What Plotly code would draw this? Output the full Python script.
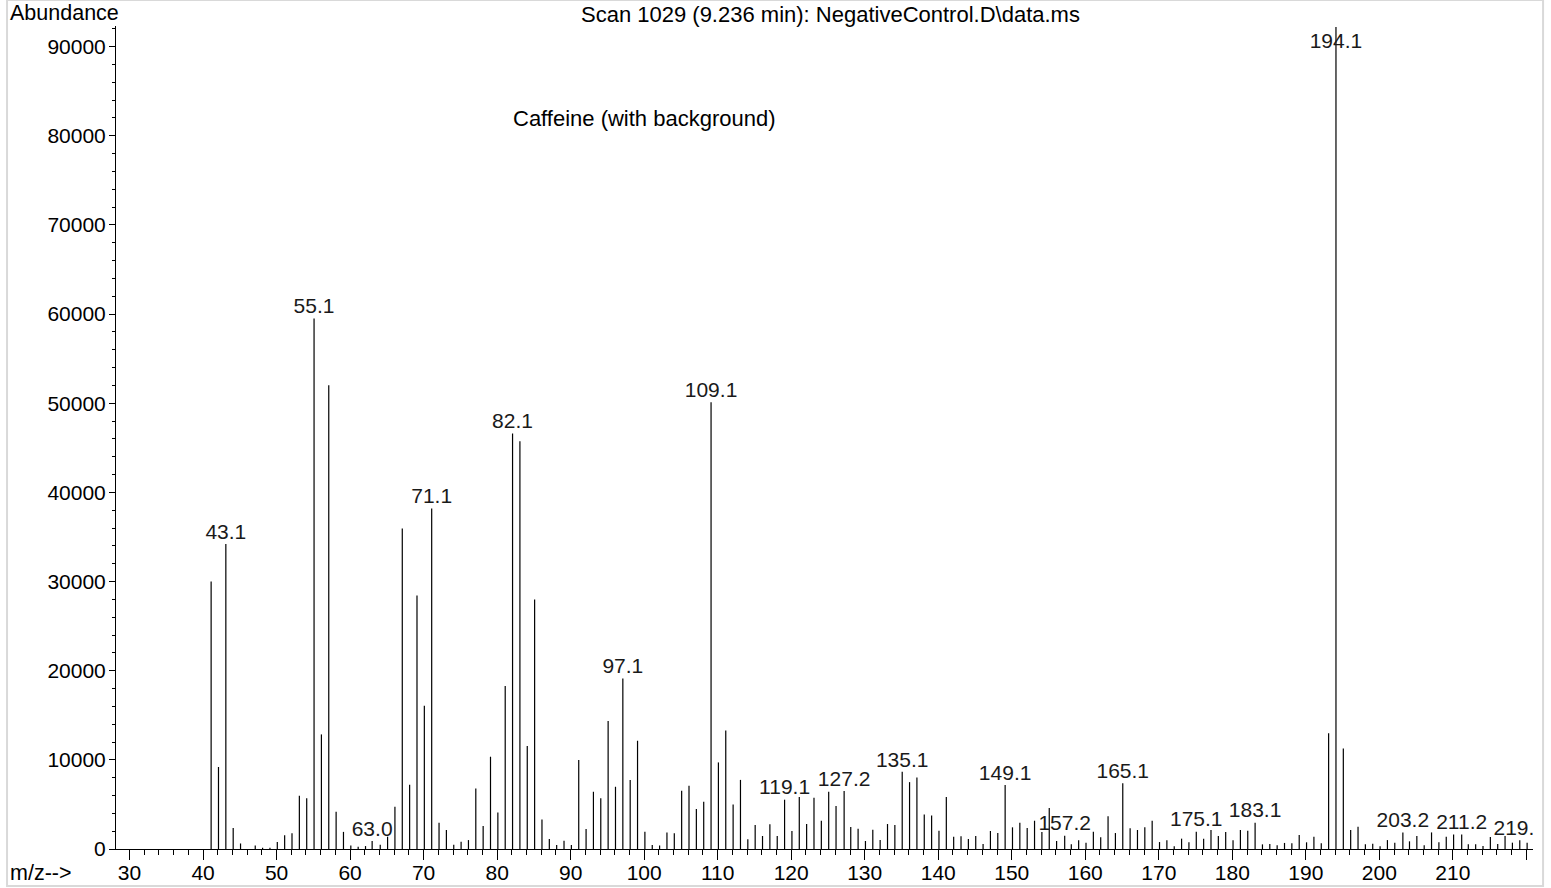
import plotly.graph_objects as go

# ---- data ----
mz = [41.1, 42.1, 43.1, 44.1, 45.1, 47.1, 48.1, 49.1, 50.1, 51.1, 52.1, 53.1, 54.1,
      55.1, 56.1, 57.1, 58.1, 59.1, 60.1, 61.1, 62.1, 63.0, 64.1, 65.1, 66.1, 67.1,
      68.1, 69.1, 70.1, 71.1, 72.1, 73.1, 74.1, 75.1, 76.1, 77.1, 78.1, 79.1, 80.1,
      81.1, 82.1, 83.1, 84.1, 85.1, 86.1, 87.1, 88.1, 89.1, 90.1, 91.1, 92.1, 93.1,
      94.1, 95.1, 96.1, 97.1, 98.1, 99.1, 100.1, 101.1, 102.1, 103.1, 104.1, 105.1,
      106.1, 107.1, 108.1, 109.1, 110.1, 111.1, 112.1, 113.1, 114.1, 115.1, 116.1,
      117.1, 118.1, 119.1, 120.1, 121.1, 122.1, 123.1, 124.1, 125.1, 126.1, 127.2,
      128.1, 129.1, 130.1, 131.1, 132.1, 133.1, 134.1, 135.1, 136.1, 137.1, 138.1,
      139.1, 140.1, 141.1, 142.1, 143.1, 144.1, 145.1, 146.1, 147.1, 148.1, 149.1,
      150.1, 151.1, 152.1, 153.1, 154.1, 155.1, 156.1, 157.2, 158.1, 159.1, 160.1,
      161.1, 162.1, 163.1, 164.1, 165.1, 166.1, 167.1, 168.1, 169.1, 170.1, 171.1,
      172.1, 173.1, 174.1, 175.1, 176.1, 177.1, 178.1, 179.1, 180.1, 181.1, 182.1,
      183.1, 184.1, 185.1, 186.1, 187.1, 188.1, 189.1, 190.1, 191.1, 192.1, 193.1,
      194.1, 195.1, 196.1, 197.1, 198.1, 199.1, 200.1, 201.1, 202.1, 203.2, 204.1,
      205.1, 206.1, 207.1, 208.1, 209.1, 210.1, 211.2, 212.1, 213.1, 214.1, 215.1,
      216.1, 217.1, 218.1, 219.1, 220.1]

abundance = [30000, 9200, 34200, 2350, 620, 400, 150, 150, 780, 1530, 1760, 5980, 5680,
             59500, 12850, 52000, 4180, 1920, 400, 260, 330, 900, 480, 1380, 4740, 35940,
             7200, 28430, 16070, 38180, 2930, 2130, 480, 820, 1000, 6780, 2590, 10350, 4100,
             18270, 46590, 45730, 11540, 27980, 3320, 1120, 450, 930, 450, 9980, 2240, 6420,
             5680, 14350, 6980, 19130, 7730, 12140, 1940, 450, 400, 1860, 1760, 6540,
             7100, 4480, 5300, 50100, 9710, 13300, 5000, 7750, 1100, 2690, 1460,
             2770, 1460, 5530, 2020, 5830, 2800, 5750, 3170, 6420, 4820, 6500,
             2470, 2280, 900, 2170, 1000, 2800, 2690, 8660, 7500, 8030, 3880,
             3770, 2060, 5830, 1380, 1420, 1120, 1460, 560, 2020, 1790, 7170,
             2430, 2930, 2360, 3170, 1900, 4600, 900, 1500, 520, 970, 710,
             1940, 1310, 3660, 1790, 7360, 2320, 2130, 2430, 3170, 780, 970,
             300, 1160, 750, 1940, 1160, 2130, 1460, 1900, 970, 2130, 2060,
             2950, 520, 560, 410, 680, 650, 1570, 750, 1380, 640, 12970,
             92200, 11280, 2130, 2500, 520, 600, 300, 1000, 710, 1860, 860,
             1460, 410, 1860, 750, 1380, 1640, 1640, 520, 520, 340, 1340,
             560, 1460, 710, 970, 710]

peak_labels = ["43.1", "55.1", "63.0", "71.1", "82.1", "97.1", "109.1", "119.1", "127.2",
               "135.1", "149.1", "157.2", "165.1", "175.1", "183.1", "194.1", "203.2",
               "211.2", "219.1"]

x_tick_vals = [30, 40, 50, 60, 70, 80, 90, 100, 110, 120, 130, 140, 150, 160, 170, 180,
               190, 200, 210, 220]
x_tick_text = ["30", "40", "50", "60", "70", "80", "90", "100", "110", "120", "130",
               "140", "150", "160", "170", "180", "190", "200", "210", ""]

title_text = "Scan 1029 (9.236 min): NegativeControl.D\\data.ms"
sample_text = "Caffeine (with background)"

X_RANGE = [28.16, 220.9]
Y_RANGE = [0, 92300]
LABEL_CAP = 89300

FONT = "Liberation Sans, Arial, sans-serif"
FS = 21

# build stick segments from data
sx, sy = [], []
for m, a in zip(mz, abundance):
    sx += [m, m, None]
    sy += [0, a, None]

lookup = dict(zip(mz, abundance))
lab_x = [float(t) for t in peak_labels]
lab_y = [min(lookup[float(t)], LABEL_CAP) for t in peak_labels]

fig = go.Figure()
fig.add_trace(go.Scatter(x=sx, y=sy, mode="lines",
                         line=dict(color="black", width=1.2),
                         hoverinfo="skip", showlegend=False))
fig.add_trace(go.Scatter(x=lab_x, y=lab_y, mode="text", text=peak_labels,
                         textposition="top center", cliponaxis=True,
                         textfont=dict(family=FONT, size=FS, color="#1a1a1a"),
                         hoverinfo="skip", showlegend=False))

fig.update_layout(
    width=1551, height=888,
    margin=dict(l=116, r=18, t=26, b=39, pad=0),
    paper_bgcolor="white", plot_bgcolor="white",
    font=dict(family=FONT, size=FS, color="black"),
    showlegend=False,
    xaxis=dict(range=X_RANGE, tickmode="array", tickvals=x_tick_vals,
               ticktext=x_tick_text, ticks="outside", ticklen=10, tickwidth=1,
               tickcolor="black", showline=True, linecolor="black", linewidth=1,
               showgrid=False, zeroline=False, automargin=False,
               ticklabelstandoff=-5,
               tickfont=dict(family=FONT, size=FS, color="black"),
               minor=dict(dtick=2, tick0=28, ticks="outside", ticklen=5,
                          tickcolor="black", showgrid=False)),
    yaxis=dict(range=Y_RANGE, dtick=10000, tick0=0, ticks="outside", ticklen=6,
               tickwidth=1, tickcolor="black", showline=True, linecolor="black",
               linewidth=1, showgrid=False, zeroline=False, automargin=False,
               tickformat="d", ticklabelstandoff=-1,
               tickfont=dict(family=FONT, size=FS, color="black"),
               minor=dict(dtick=2000, ticks="outside", ticklen=3,
                          tickcolor="black", showgrid=False)),
)

fig.add_annotation(text=title_text, xref="paper", yref="paper", x=0.504, y=1,
                   yshift=12, xanchor="center", yanchor="middle", showarrow=False,
                   font=dict(family=FONT, size=22, color="black"))
fig.add_annotation(text=sample_text, x=100, y=81900, xanchor="center",
                   yanchor="middle", showarrow=False,
                   font=dict(family=FONT, size=22, color="black"))
fig.add_annotation(text="Abundance", xref="paper", yref="paper", x=0, y=1,
                   xshift=-108, yshift=13, xanchor="left", yanchor="middle",
                   showarrow=False, font=dict(family=FONT, size=21.5, color="black"))
fig.add_annotation(text="m/z-->", xref="paper", yref="paper", x=0, y=0,
                   xshift=-108, yshift=-24, xanchor="left", yanchor="middle",
                   showarrow=False, font=dict(family=FONT, size=21.5, color="black"))

# light frame around the whole picture
fig.add_shape(type="rect", xref="paper", yref="paper",
              x0=-0.0769, x1=1.0071, y0=-0.045, y1=1.0316,
              line=dict(color="#d9d9d9", width=2), layer="below")

fig.write_html(
    "out.html",
    config={"displayModeBar": False},
    post_script="document.body.style.margin='0';document.body.style.padding='0';"
                "document.body.style.overflow='hidden';",
)
